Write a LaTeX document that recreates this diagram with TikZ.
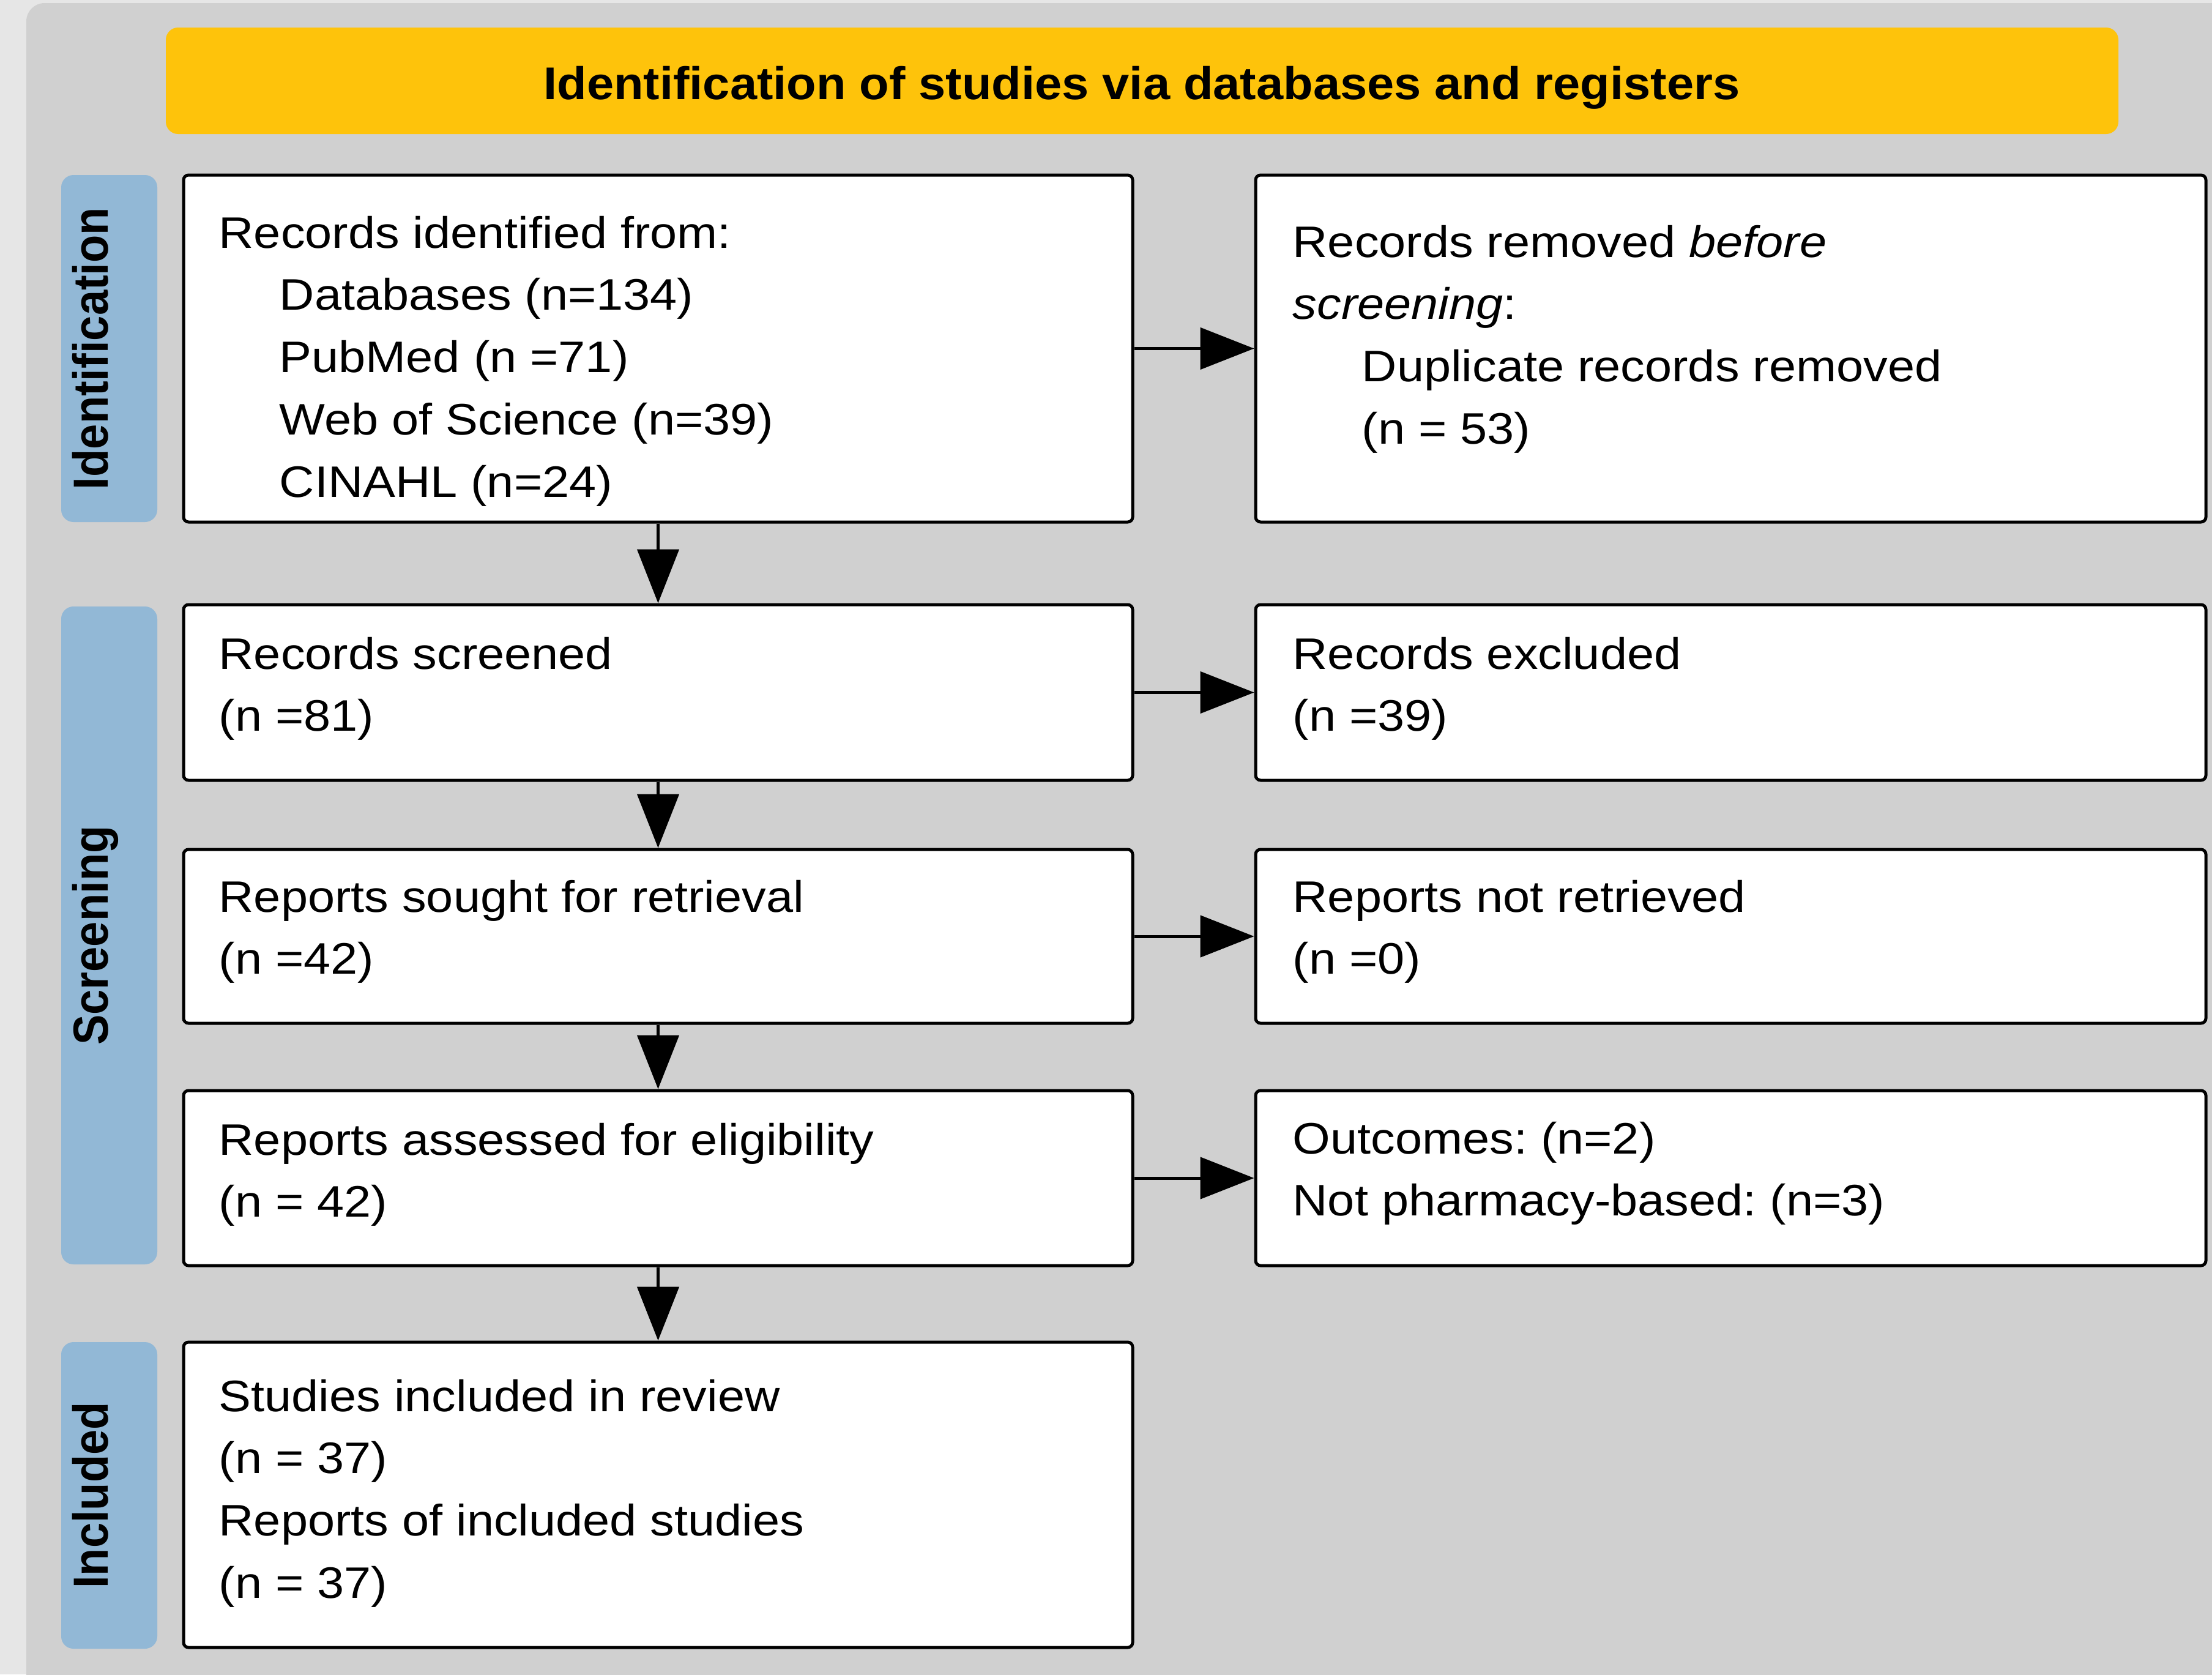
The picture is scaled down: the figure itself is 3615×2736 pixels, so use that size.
\documentclass[tikz,border=0pt]{standalone}
\usepackage{fontspec}
\setmainfont{Liberation Sans}
\newfontfamily\regf[FakeStretch=1.10]{Liberation Sans}
\newfontfamily\hdrf[FakeStretch=1.06]{Liberation Sans}
\newfontfamily\sidef[FakeStretch=0.92]{Liberation Sans}
\usetikzlibrary{arrows.meta,fit}
\definecolor{outerbg}{HTML}{E6E6E6}
\definecolor{panel}{HTML}{D0D0D0}
\definecolor{hdrcol}{HTML}{FEC30B}
\definecolor{sidecol}{HTML}{92B8D6}
\frenchspacing
\newcommand\txtblock[1]{\parbox[t]{15cm}{\raggedright\frenchspacing #1}}
\tikzset{
  box/.style={draw=black, fill=white, line width=1.42pt, rounded corners=2.3pt, inner sep=0pt},
  sidebox/.style={fill=sidecol, rounded corners=5.7pt, inner sep=0pt},
  hdrbox/.style={fill=hdrcol, rounded corners=5.7pt, inner sep=0pt},
  body/.style={inner sep=0pt, anchor=base west, font=\regf\fontsize{20.5pt}{28.94pt}\selectfont},
  hdrtxt/.style={inner sep=0pt, anchor=base, font=\hdrf\bfseries\fontsize{21.3pt}{25pt}\selectfont},
  sidelbl/.style={inner sep=0pt, rotate=90, anchor=base, font=\sidef\bfseries\fontsize{22.9pt}{27pt}\selectfont},
  flow/.style={line width=1.42pt, -{Triangle[length=25pt,width=19.3pt]}},
}
\begin{document}
\begin{tikzpicture}[x=0.01cm, y=-0.01cm]
\useasboundingbox (0,0) rectangle (3615,2736);
\fill[outerbg] (0,0) rectangle (3615,2736);
\begin{scope}
  \clip (0,0) rectangle (3615,2736);
  \fill[panel, rounded corners=8.5pt] (43,5) rectangle (3800,2900);
\end{scope}

% header
\node[hdrbox, fit={(271,45) (3462,219)}] (hdr) {};
\node[hdrtxt] (hdrt) at (1866,162) {Identification of studies via databases and registers};

% side labels
\node[sidebox, fit={(100,286) (257,853)}] (sid) {};
\node[sidebox, fit={(100,991) (257,2066)}] (sscr) {};
\node[sidebox, fit={(100,2193) (257,2694)}] (sinc) {};
\node[sidelbl] (lid) at (176,569.5) {Identification};
\node[sidelbl] (lscr) at (176,1528.5) {Screening};
\node[sidelbl] (linc) at (176,2443.5) {Included};

% left boxes
\node[box, fit={(300,286) (1851,853)}] (b1) {};
\node[box, fit={(300,988) (1851,1275)}] (b2) {};
\node[box, fit={(300,1388) (1851,1672)}] (b3) {};
\node[box, fit={(300,1782) (1851,2068)}] (b4) {};
\node[box, fit={(300,2193) (1851,2692)}] (b5) {};
% right boxes
\node[box, fit={(2052,286) (3605,853)}] (r1) {};
\node[box, fit={(2052,988) (3605,1275)}] (r2) {};
\node[box, fit={(2052,1388) (3605,1672)}] (r3) {};
\node[box, fit={(2052,1782) (3605,2068)}] (r4) {};

% texts
\node[body] (t1) at (357,405) {\txtblock{Records identified from:\\
\hspace*{0.99cm}Databases (n=134)\\
\hspace*{0.99cm}PubMed (n =71)\\
\hspace*{0.99cm}Web of Science (n=39)\\
\hspace*{0.99cm}CINAHL (n=24)}};
\node[body] (t2) at (357,1093) {\txtblock{Records screened\\(n =81)}};
\node[body] (t3) at (357,1490) {\txtblock{Reports sought for retrieval\\(n =42)}};
\node[body] (t4) at (357,1887) {\txtblock{Reports assessed for eligibility\\(n = 42)}};
\node[body] (t5) at (357,2306) {\txtblock{Studies included in review\\(n = 37)\\Reports of included studies\\(n = 37)}};

\node[body] (u1) at (2112,420) {\txtblock{Records removed \textit{before}\\
\textit{screening}:\\
\hspace*{1.13cm}Duplicate records removed\\
\hspace*{1.13cm}(n = 53)}};
\node[body] (u2) at (2112,1093) {\txtblock{Records excluded\\(n =39)}};
\node[body] (u3) at (2112,1490) {\txtblock{Reports not retrieved\\(n =0)}};
\node[body] (u4) at (2112,1885) {\txtblock{Outcomes: (n=2)\\Not pharmacy-based: (n=3)}};

% connectors
\draw[flow] (b1.south) -- (b2.north);
\draw[flow] (b2.south) -- (b3.north);
\draw[flow] (b3.south) -- (b4.north);
\draw[flow] (b4.south) -- (b5.north);
\draw[flow] (b1.east) -- (r1.west);
\draw[flow] (b2.east) -- (r2.west);
\draw[flow] (b3.east) -- (r3.west);
\draw[flow] (b4.east) -- (r4.west);
\end{tikzpicture}
\end{document}
